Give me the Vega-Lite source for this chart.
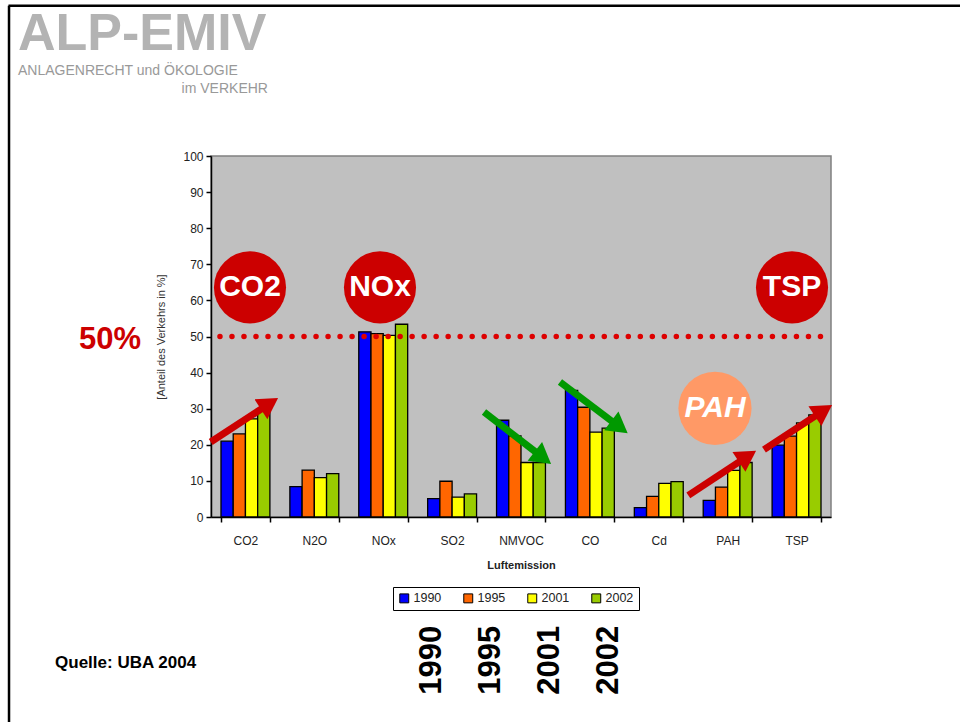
{
  "$schema": "https://vega.github.io/schema/vega-lite/v6.json",
  "width": 620,
  "height": 361,
  "autosize": {"type": "none"},
  "padding": {"left": 211, "top": 156, "right": 129, "bottom": 205},
  "background": "white",
  "config": {
    "font": "Liberation Sans",
    "view": {"fill": "#C0C0C0", "stroke": "#808080", "strokeWidth": 1.5}
  },
  "resolve": {"scale": {"x": "independent", "y": "independent"}},
  "layer": [
    {
      "data": {"values": [
        {"cat": "CO2", "year": "1990", "value": 21.0}, {"cat": "CO2", "year": "1995", "value": 23.0}, {"cat": "CO2", "year": "2001", "value": 27.2}, {"cat": "CO2", "year": "2002", "value": 29.7},
        {"cat": "N2O", "year": "1990", "value": 8.4}, {"cat": "N2O", "year": "1995", "value": 13.0}, {"cat": "N2O", "year": "2001", "value": 10.9}, {"cat": "N2O", "year": "2002", "value": 12.0},
        {"cat": "NOx", "year": "1990", "value": 51.3}, {"cat": "NOx", "year": "1995", "value": 50.8}, {"cat": "NOx", "year": "2001", "value": 50.3}, {"cat": "NOx", "year": "2002", "value": 53.4},
        {"cat": "SO2", "year": "1990", "value": 5.1}, {"cat": "SO2", "year": "1995", "value": 9.9}, {"cat": "SO2", "year": "2001", "value": 5.5}, {"cat": "SO2", "year": "2002", "value": 6.4},
        {"cat": "NMVOC", "year": "1990", "value": 26.8}, {"cat": "NMVOC", "year": "1995", "value": 22.5}, {"cat": "NMVOC", "year": "2001", "value": 15.1}, {"cat": "NMVOC", "year": "2002", "value": 15.1},
        {"cat": "CO", "year": "1990", "value": 35.1}, {"cat": "CO", "year": "1995", "value": 30.4}, {"cat": "CO", "year": "2001", "value": 23.5}, {"cat": "CO", "year": "2002", "value": 24.6},
        {"cat": "Cd", "year": "1990", "value": 2.6}, {"cat": "Cd", "year": "1995", "value": 5.7}, {"cat": "Cd", "year": "2001", "value": 9.3}, {"cat": "Cd", "year": "2002", "value": 9.8},
        {"cat": "PAH", "year": "1990", "value": 4.6}, {"cat": "PAH", "year": "1995", "value": 8.3}, {"cat": "PAH", "year": "2001", "value": 12.9}, {"cat": "PAH", "year": "2002", "value": 15.1},
        {"cat": "TSP", "year": "1990", "value": 19.9}, {"cat": "TSP", "year": "1995", "value": 22.4}, {"cat": "TSP", "year": "2001", "value": 26.1}, {"cat": "TSP", "year": "2002", "value": 28.3}
      ]},
      "mark": {"type": "bar", "stroke": "black", "strokeWidth": 1.3},
      "encoding": {
        "x": {
          "field": "cat", "type": "nominal",
          "sort": ["CO2", "N2O", "NOx", "SO2", "NMVOC", "CO", "Cd", "PAH", "TSP"],
          "scale": {"paddingInner": 0.29, "paddingOuter": 0.145},
          "axis": {
            "title": "Luftemission", "titleFontSize": 11, "titleFontWeight": "bold", "titleColor": "#222",
            "titlePadding": 13,
            "labelAngle": 0, "labelFontSize": 12, "labelColor": "#222", "labelPadding": 13,
            "tickBand": "extent", "tickColor": "black", "tickSize": 5, "tickWidth": 1.5,
            "domainColor": "black", "domainWidth": 1.5
          }
        },
        "xOffset": {"field": "year", "type": "nominal"},
        "y": {
          "field": "value", "type": "quantitative",
          "scale": {"domain": [0, 100], "nice": false},
          "axis": {
            "title": "[Anteil des Verkehrs in %]", "titleFontSize": 11, "titleFontWeight": "normal", "titleColor": "#333",
            "titlePadding": 16,
            "values": [0, 10, 20, 30, 40, 50, 60, 70, 80, 90, 100],
            "labelFontSize": 12, "labelColor": "#222", "labelPadding": 3,
            "tickColor": "black", "tickSize": 5, "tickWidth": 1.5,
            "domainColor": "black", "domainWidth": 1.5, "grid": false
          }
        },
        "color": {
          "field": "year", "type": "nominal",
          "scale": {"domain": ["1990", "1995", "2001", "2002"], "range": ["#0000FF", "#FF6600", "#FFFF00", "#99CC00"]},
          "legend": {
            "title": null, "orient": "none", "legendX": 182, "legendY": 431,
            "direction": "horizontal", "columns": 4, "columnPadding": 19,
            "symbolType": "square", "symbolSize": 80, "symbolStrokeColor": "black", "symbolStrokeWidth": 1,
            "labelFontSize": 12.5, "labelColor": "#222", "labelOffset": 3,
            "strokeColor": "black", "padding": 5, "fillColor": "white"
          }
        }
      }
    },
    {
      "data": {"values": [{"x": 0.13, "x2": 8.9, "y": 50}]},
      "mark": {"type": "rule", "color": "#DD0000", "strokeWidth": 5.5, "strokeDash": [0.01, 12], "strokeCap": "round"},
      "encoding": {
        "x": {"field": "x", "type": "quantitative", "scale": {"domain": [0, 9], "nice": false, "zero": false}, "axis": null},
        "x2": {"field": "x2"},
        "y": {"field": "y", "type": "quantitative", "scale": {"domain": [0, 100], "nice": false}, "axis": null}
      }
    },
    {
      "data": {"values": [
        {"x": -0.004, "y": 20.78, "x2": 0.849, "y2": 31.4},
        {"x": 6.929, "y": 6.01, "x2": 7.788, "y2": 16.81},
        {"x": 8.027, "y": 18.67, "x2": 8.891, "y2": 29.47}
      ]},
      "mark": {"type": "rule", "color": "#CC0000", "strokeWidth": 7, "clip": false},
      "encoding": {
        "x": {"field": "x", "type": "quantitative", "scale": {"domain": [0, 9], "nice": false, "zero": false}, "axis": null},
        "x2": {"field": "x2"},
        "y": {"field": "y", "type": "quantitative", "scale": {"domain": [0, 100], "nice": false}, "axis": null},
        "y2": {"field": "y2"}
      }
    },
    {
      "data": {"values": [
        {"x": 0.849, "y": 31.4, "angle": 326.9},
        {"x": 7.788, "y": 16.81, "angle": 326.7},
        {"x": 8.891, "y": 29.47, "angle": 326.8}
      ]},
      "mark": {"type": "point", "shape": "triangle-right", "filled": true, "color": "#CC0000", "opacity": 1, "size": 560, "clip": false},
      "encoding": {
        "x": {"field": "x", "type": "quantitative", "scale": {"domain": [0, 9], "nice": false, "zero": false}, "axis": null},
        "y": {"field": "y", "type": "quantitative", "scale": {"domain": [0, 100], "nice": false}, "axis": null},
        "angle": {"field": "angle", "type": "quantitative", "scale": null}
      }
    },
    {
      "data": {"values": [
        {"x": 3.963, "y": 29.09, "x2": 4.819, "y2": 16.45},
        {"x": 5.066, "y": 37.40, "x2": 5.930, "y2": 24.93}
      ]},
      "mark": {"type": "rule", "color": "#009900", "strokeWidth": 7, "clip": false},
      "encoding": {
        "x": {"field": "x", "type": "quantitative", "scale": {"domain": [0, 9], "nice": false, "zero": false}, "axis": null},
        "x2": {"field": "x2"},
        "y": {"field": "y", "type": "quantitative", "scale": {"domain": [0, 100], "nice": false}, "axis": null},
        "y2": {"field": "y2"}
      }
    },
    {
      "data": {"values": [
        {"x": 4.819, "y": 16.45, "angle": 37.7},
        {"x": 5.930, "y": 24.93, "angle": 37.1}
      ]},
      "mark": {"type": "point", "shape": "triangle-right", "filled": true, "color": "#009900", "opacity": 1, "size": 560, "clip": false},
      "encoding": {
        "x": {"field": "x", "type": "quantitative", "scale": {"domain": [0, 9], "nice": false, "zero": false}, "axis": null},
        "y": {"field": "y", "type": "quantitative", "scale": {"domain": [0, 100], "nice": false}, "axis": null},
        "angle": {"field": "angle", "type": "quantitative", "scale": null}
      }
    },
    {
      "data": {"values": [
        {"x": 0.566, "y": 63.6, "label": "CO2"},
        {"x": 2.453, "y": 63.6, "label": "NOx"},
        {"x": 8.434, "y": 63.6, "label": "TSP"}
      ]},
      "layer": [
        {
          "mark": {"type": "point", "shape": "circle", "filled": true, "color": "#CC0000", "opacity": 1, "size": 5200, "clip": false},
          "encoding": {
            "x": {"field": "x", "type": "quantitative", "scale": {"domain": [0, 9], "nice": false, "zero": false}, "axis": null},
            "y": {"field": "y", "type": "quantitative", "scale": {"domain": [0, 100], "nice": false}, "axis": null}
          }
        },
        {
          "mark": {"type": "text", "color": "white", "fontSize": 30, "fontWeight": "bold", "align": "center", "baseline": "middle", "clip": false},
          "encoding": {
            "x": {"field": "x", "type": "quantitative", "scale": {"domain": [0, 9], "nice": false, "zero": false}, "axis": null},
            "y": {"field": "y", "type": "quantitative", "scale": {"domain": [0, 100], "nice": false}, "axis": null},
            "text": {"field": "label"}
          }
        }
      ]
    },
    {
      "data": {"values": [{"x": 7.316, "y": 30.1, "label": "PAH"}]},
      "layer": [
        {
          "mark": {"type": "point", "shape": "circle", "filled": true, "color": "#FF9966", "opacity": 1, "size": 5360, "clip": false},
          "encoding": {
            "x": {"field": "x", "type": "quantitative", "scale": {"domain": [0, 9], "nice": false, "zero": false}, "axis": null},
            "y": {"field": "y", "type": "quantitative", "scale": {"domain": [0, 100], "nice": false}, "axis": null}
          }
        },
        {
          "mark": {"type": "text", "color": "white", "fontSize": 30, "fontWeight": "bold", "fontStyle": "italic", "align": "center", "baseline": "middle", "clip": false},
          "encoding": {
            "x": {"field": "x", "type": "quantitative", "scale": {"domain": [0, 9], "nice": false, "zero": false}, "axis": null},
            "y": {"field": "y", "type": "quantitative", "scale": {"domain": [0, 100], "nice": false}, "axis": null},
            "text": {"field": "label"}
          }
        }
      ]
    },
    {
      "data": {"values": [{"x": -1.466, "y": 48.9, "label": "50%"}]},
      "mark": {"type": "text", "color": "#CC0000", "fontSize": 31, "fontWeight": "bold", "align": "center", "baseline": "middle", "clip": false},
      "encoding": {
        "x": {"field": "x", "type": "quantitative", "scale": {"domain": [0, 9], "nice": false, "zero": false}, "axis": null},
        "y": {"field": "y", "type": "quantitative", "scale": {"domain": [0, 100], "nice": false}, "axis": null},
        "text": {"field": "label"}
      }
    },
    {
      "data": {"values": [{"x": -2.264, "y": -40.5, "label": "Quelle: UBA 2004"}]},
      "mark": {"type": "text", "color": "black", "fontSize": 17, "fontWeight": "bold", "align": "left", "baseline": "middle", "clip": false},
      "encoding": {
        "x": {"field": "x", "type": "quantitative", "scale": {"domain": [0, 9], "nice": false, "zero": false}, "axis": null},
        "y": {"field": "y", "type": "quantitative", "scale": {"domain": [0, 100], "nice": false}, "axis": null},
        "text": {"field": "label"}
      }
    },
    {
      "data": {"values": [
        {"x": 3.208, "y": -39.7, "label": "1990"},
        {"x": 4.064, "y": -39.7, "label": "1995"},
        {"x": 4.921, "y": -39.7, "label": "2001"},
        {"x": 5.777, "y": -39.7, "label": "2002"}
      ]},
      "mark": {"type": "text", "color": "black", "fontSize": 31, "fontWeight": "bold", "angle": 270, "align": "center", "baseline": "middle", "clip": false},
      "encoding": {
        "x": {"field": "x", "type": "quantitative", "scale": {"domain": [0, 9], "nice": false, "zero": false}, "axis": null},
        "y": {"field": "y", "type": "quantitative", "scale": {"domain": [0, 100], "nice": false}, "axis": null},
        "text": {"field": "label"}
      }
    },
    {
      "data": {"values": [{"x": -2.802, "y": 129.3, "label": "ALP-EMIV"}]},
      "mark": {"type": "text", "color": "#B3B3B3", "fontSize": 52, "fontWeight": "bold", "align": "left", "baseline": "alphabetic", "clip": false},
      "encoding": {
        "x": {"field": "x", "type": "quantitative", "scale": {"domain": [0, 9], "nice": false, "zero": false}, "axis": null},
        "y": {"field": "y", "type": "quantitative", "scale": {"domain": [0, 100], "nice": false}, "axis": null},
        "text": {"field": "label"}
      }
    },
    {
      "data": {"values": [{"x": -2.802, "y": 122.4, "label": "ANLAGENRECHT und ÖKOLOGIE"}]},
      "mark": {"type": "text", "color": "#999999", "fontSize": 14, "align": "left", "baseline": "alphabetic", "clip": false},
      "encoding": {
        "x": {"field": "x", "type": "quantitative", "scale": {"domain": [0, 9], "nice": false, "zero": false}, "axis": null},
        "y": {"field": "y", "type": "quantitative", "scale": {"domain": [0, 100], "nice": false}, "axis": null},
        "text": {"field": "label"}
      }
    },
    {
      "data": {"values": [{"x": 0.827, "y": 117.4, "label": "im VERKEHR"}]},
      "mark": {"type": "text", "color": "#999999", "fontSize": 14, "align": "right", "baseline": "alphabetic", "clip": false},
      "encoding": {
        "x": {"field": "x", "type": "quantitative", "scale": {"domain": [0, 9], "nice": false, "zero": false}, "axis": null},
        "y": {"field": "y", "type": "quantitative", "scale": {"domain": [0, 100], "nice": false}, "axis": null},
        "text": {"field": "label"}
      }
    },
    {
      "data": {"values": [
        {"x": -2.94, "x2": 10.95, "y": 141.6, "y2": 141.6},
        {"x": -2.932, "x2": -2.932, "y": 141.6, "y2": -57.5}
      ]},
      "mark": {"type": "rule", "color": "black", "strokeWidth": 2.5, "clip": false},
      "encoding": {
        "x": {"field": "x", "type": "quantitative", "scale": {"domain": [0, 9], "nice": false, "zero": false}, "axis": null},
        "x2": {"field": "x2"},
        "y": {"field": "y", "type": "quantitative", "scale": {"domain": [0, 100], "nice": false}, "axis": null},
        "y2": {"field": "y2"}
      }
    }
  ]
}
